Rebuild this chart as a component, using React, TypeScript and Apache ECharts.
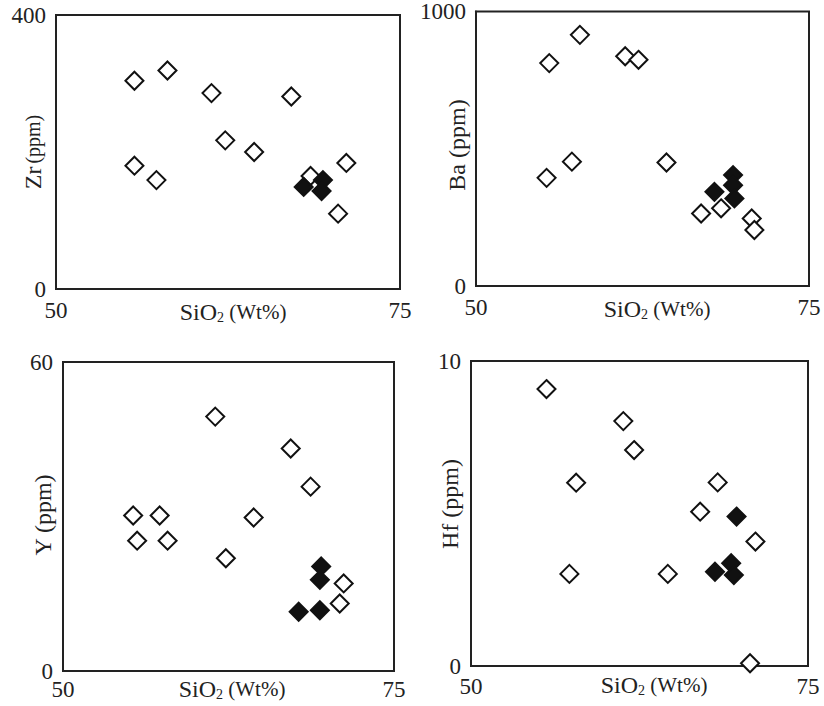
import React, { useEffect, useRef } from "react";
import * as echarts from "echarts";

const xRange = [50, 75];
const xTicks = ["50", "75"];

const zrOpen = [[55.7, 304], [58.1, 319], [61.3, 286], [67.1, 281], [62.3, 217], [64.4, 200], [55.7, 180], [57.3, 159], [71.1, 184], [68.5, 165], [70.5, 110]];
const zrFilled = [[68.0, 149], [69.4, 159], [69.3, 143]];

const baOpen = [[55.5, 812], [57.8, 915], [61.2, 837], [62.2, 824], [55.3, 394], [57.2, 453], [64.3, 450], [66.9, 264], [68.4, 283], [70.7, 246], [70.9, 204]];
const baFilled = [[69.3, 404], [69.3, 367], [69.4, 319], [67.9, 343]];

const yOpen = [[61.5, 49.4], [67.2, 43.2], [68.7, 35.8], [55.3, 30.2], [57.3, 30.2], [64.4, 29.8], [55.6, 25.3], [57.9, 25.3], [62.3, 21.9], [71.2, 17.0], [70.9, 13.1]];
const yFilled = [[69.5, 20.3], [69.4, 17.7], [67.8, 11.5], [69.4, 11.8]];

const hfOpen = [[55.6, 9.08], [61.3, 8.03], [62.1, 7.08], [57.8, 6.01], [68.3, 6.02], [67.0, 5.06], [71.1, 4.08], [57.3, 3.02], [64.6, 3.02], [70.7, 0.09]];
const hfFilled = [[69.7, 4.9], [69.3, 3.37], [68.1, 3.09], [69.5, 2.98]];

const yMaxes = [400, 1000, 60, 10];
const yTickLabels = [["0", "400"], ["0", "1000"], ["0", "60"], ["0", "10"]];

const FONT = "Liberation Serif, Times New Roman, serif";
const INK = "#222";

export default function App() {
  const ref = useRef<HTMLDivElement>(null);
  useEffect(() => {
    if (!ref.current) return;
    const chart = echarts.init(ref.current, null, { renderer: "svg" });
    const grids = [
      { left: 56, top: 15, width: 344, height: 274 },
      { left: 476, top: 11, width: 333, height: 275 },
      { left: 63, top: 362, width: 331, height: 309 },
      { left: 471, top: 361, width: 337, height: 305 },
    ];
    const openSets = [zrOpen, baOpen, yOpen, hfOpen];
    const filledSets = [zrFilled, baFilled, yFilled, hfFilled];
    const xLabelMargins = [10, 10, 7, 9];

    const series: any[] = [];
    for (let i = 0; i < 4; i++) {
      series.push({
        type: "scatter",
        xAxisIndex: i,
        yAxisIndex: i,
        symbol: "diamond",
        symbolSize: 18,
        data: openSets[i],
        itemStyle: { color: "#fff", borderColor: "#111", borderWidth: 2, opacity: 1 },
        z: 3,
      });
      series.push({
        type: "scatter",
        xAxisIndex: i,
        yAxisIndex: i,
        symbol: "diamond",
        symbolSize: 18,
        data: filledSets[i],
        itemStyle: { color: "#111", borderColor: "#111", borderWidth: 2, opacity: 1 },
        z: 4,
      });
    }

    const axisLine = { show: true, lineStyle: { color: INK, width: 2 } };

    const yTitle = (x: number, y: number, rich: string, styles: any) => ({
      type: "text",
      x,
      y,
      rotation: Math.PI / 2,
      style: {
        text: rich,
        align: "center",
        verticalAlign: "middle",
        fill: INK,
        fontFamily: FONT,
        rich: styles,
      },
    });
    const xTitle = (x: number, y: number) => ({
      type: "text",
      x,
      y,
      style: {
        text: "{a|SiO}{s|2}{b| (Wt%)}",
        align: "center",
        verticalAlign: "middle",
        fill: INK,
        fontFamily: FONT,
        rich: {
          a: { fontSize: 24, fontFamily: FONT, color: INK },
          s: { fontSize: 14, fontFamily: FONT, color: INK, verticalAlign: "bottom", padding: [10, 0, 0, 0] },
          b: { fontSize: 21, fontFamily: FONT, color: INK },
        },
      },
    });
    const plain = { t: { fontSize: 24, fontFamily: FONT, color: INK } };

    chart.setOption({
      animation: false,
      backgroundColor: "#fff",
      grid: grids.map((g) => ({ ...g, show: true, borderColor: INK, borderWidth: 2, backgroundColor: "transparent" })),
      xAxis: grids.map((_, i) => ({
        type: "value",
        gridIndex: i,
        min: xRange[0],
        max: xRange[1],
        interval: 25,
        axisLine,
        axisTick: { show: false },
        splitLine: { show: false },
        axisLabel: {
          show: true,
          fontSize: 23,
          color: INK,
          fontFamily: FONT,
          margin: xLabelMargins[i],
          showMinLabel: true,
          showMaxLabel: true,
          formatter: (v: number) => (v === xRange[0] ? xTicks[0] : xTicks[1]),
        },
      })),
      yAxis: grids.map((_, i) => ({
        type: "value",
        gridIndex: i,
        min: 0,
        max: yMaxes[i],
        interval: yMaxes[i],
        axisLine,
        axisTick: { show: false },
        splitLine: { show: false },
        axisLabel: {
          show: true,
          fontSize: 23,
          color: INK,
          fontFamily: FONT,
          margin: 10,
          showMinLabel: true,
          showMaxLabel: true,
          formatter: (v: number) => (v === 0 ? yTickLabels[i][0] : yTickLabels[i][1]),
        },
      })),
      series,
      graphic: [
        yTitle(33, 152, "{a|Zr} {b|(ppm)}", {
          a: { fontSize: 24, fontFamily: FONT, color: INK },
          b: { fontSize: 20, fontFamily: FONT, color: INK },
        }),
        yTitle(457, 145, "{t|Ba (ppm)}", plain),
        yTitle(43, 515, "{t|Y (ppm)}", plain),
        yTitle(450, 504, "{t|Hf (ppm)}", plain),
        xTitle(233, 312),
        xTitle(657, 309),
        xTitle(232, 689),
        xTitle(654, 685),
      ],
    });
    return () => chart.dispose();
  }, []);
  return (
    <div
      ref={ref}
      style={{ position: "fixed", left: 0, top: 0, width: 824, height: 706, background: "#fff" }}
    />
  );
}
